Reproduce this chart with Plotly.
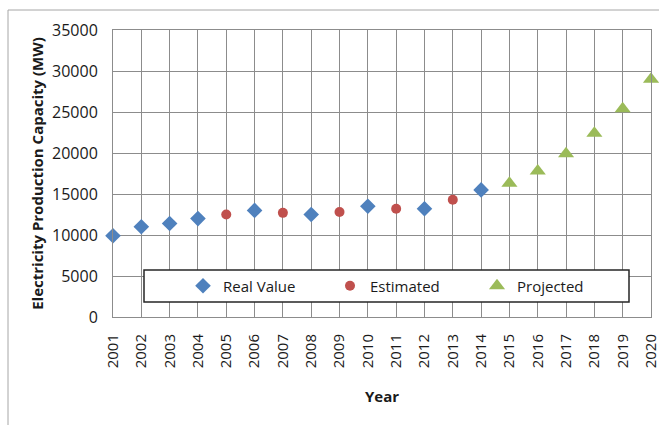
import plotly.graph_objects as go

years_real = [2001, 2002, 2003, 2004, 2006, 2008, 2010, 2012, 2014]
vals_real = [9900, 11000, 11400, 12000, 13000, 12500, 13500, 13200, 15500]
years_est = [2005, 2007, 2009, 2011, 2013]
vals_est = [12500, 12700, 12800, 13200, 14300]
years_proj = [2015, 2016, 2017, 2018, 2019, 2020]
vals_proj = [16300, 17800, 19900, 22400, 25400, 29000]
all_years = list(range(2001, 2021))
y_ticks = [0, 5000, 10000, 15000, 20000, 25000, 30000, 35000]

FONT = "Open Sans"
TXT = "#1a1a1a"

fig = go.Figure()
fig.add_trace(go.Scatter(x=years_real, y=vals_real, mode="markers", name="Real Value",
                         marker=dict(symbol="diamond", size=12, color="#4F81BD"), cliponaxis=False))
fig.add_trace(go.Scatter(x=years_est, y=vals_est, mode="markers", name="Estimated",
                         marker=dict(symbol="circle", size=10, color="#C0504D"), cliponaxis=False))
fig.add_trace(go.Scatter(x=years_proj, y=vals_proj, mode="markers", name="Projected",
                         marker=dict(symbol="triangle-up", size=14, color="#9BBB59"), cliponaxis=False))

W, H = 659, 425
L, R, T, B = 113, 8, 30, 108
pw = W - L - R
ph = H - T - B

def px_x(p):
    return (p - L) / pw

def px_y(p):
    return (H - B - p) / ph

shapes = [
    dict(type="rect", xref="paper", yref="paper", x0=px_x(8), x1=px_x(680), y0=px_y(440), y1=px_y(10),
         line=dict(color="#a6a6a6", width=1), fillcolor="rgba(0,0,0,0)", layer="below"),
    dict(type="rect", xref="paper", yref="paper", x0=px_x(144), x1=px_x(629), y0=px_y(302), y1=px_y(270),
         line=dict(color="#262626", width=1.5), fillcolor="white", layer="above"),
]

fig.update_layout(
    width=W, height=H,
    margin=dict(l=L, r=R, t=T, b=B, autoexpand=False),
    paper_bgcolor="white", plot_bgcolor="white",
    font=dict(family=FONT, size=16, color=TXT),
    showlegend=True,
    legend=dict(orientation="h", x=px_x(183), y=(px_y(270) + px_y(302)) / 2, xanchor="left", yanchor="middle",
                bgcolor="rgba(0,0,0,0)", borderwidth=0, font=dict(family=FONT, size=15, color=TXT),
                entrywidth=102, entrywidthmode="pixels", itemwidth=30),
    shapes=shapes,
    xaxis=dict(range=[2001, 2020], tickvals=all_years, ticktext=[str(y) for y in all_years],
               tickangle=-90, showgrid=True, gridcolor="#8c8c8c", gridwidth=1,
               showline=True, linecolor="#8c8c8c", mirror=True, zeroline=False, ticks="",
               tickfont=dict(size=15), ticklabelstandoff=10, ticklabeloverflow="allow",
               title=dict(text="<b>Year</b>", font=dict(size=15), standoff=24)),
    yaxis=dict(range=[0, 35000], tickvals=y_ticks, tickformat="d", showgrid=True, gridcolor="#8c8c8c", gridwidth=1,
               showline=True, linecolor="#8c8c8c", mirror=True, zeroline=False, ticks="",
               tickfont=dict(size=16), ticklabelstandoff=11, ticklabeloverflow="allow",
               title=dict(text="<b>Electricity Production Capacity (MW)</b>", font=dict(size=15), standoff=4)),
)

fig.write_html("out.html", post_script="document.body.style.margin='0';", config={"displayModeBar": False})
